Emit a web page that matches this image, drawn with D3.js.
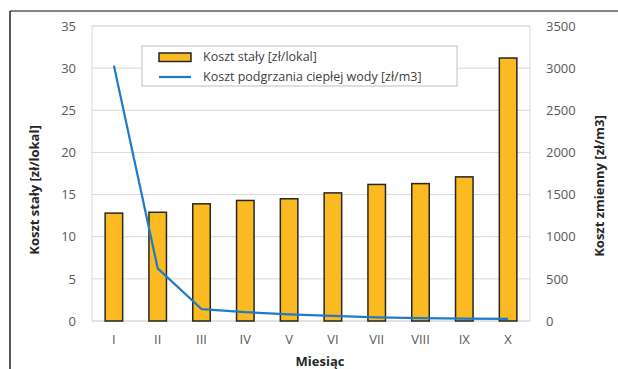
<!DOCTYPE html>
<html>
<head>
<meta charset="utf-8">
<script src="https://cdn.jsdelivr.net/npm/d3@7"></script>
<style>
  body { margin: 0; background: #fff; }
  text { font-family: "Open Sans", "Noto Sans", sans-serif; }
</style>
</head>
<body>
<div id="chart"></div>
<script>
const months = ["I", "II", "III", "IV", "V", "VI", "VII", "VIII", "IX", "X"];
const fixedCost = [12.8, 12.9, 13.9, 14.3, 14.5, 15.2, 16.2, 16.3, 17.1, 31.2];
const heatCost = [3030, 625, 142, 105, 80, 62, 42, 33, 27, 24];
const leftTicks = [0, 5, 10, 15, 20, 25, 30, 35];
const rightTicks = [0, 500, 1000, 1500, 2000, 2500, 3000, 3500];

const W = 618, H = 369;
const margin = { top: 26, right: 88, bottom: 48, left: 92 };

const svg = d3.select("#chart").append("svg")
  .attr("width", W).attr("height", H);

// outer frame (top + left only visible)
svg.append("line").attr("x1", 10).attr("x2", W).attr("y1", 11).attr("y2", 11)
  .attr("stroke", "#5a5a5a").attr("stroke-width", 1.5);
svg.append("line").attr("x1", 10).attr("x2", 10).attr("y1", 11).attr("y2", H)
  .attr("stroke", "#222").attr("stroke-width", 1.5);

const x = d3.scaleBand().domain(months)
  .range([margin.left, W - margin.right]).paddingInner(0.6).paddingOuter(0.3);
const yL = d3.scaleLinear().domain([0, 35]).range([H - margin.bottom, margin.top]);
const yR = d3.scaleLinear().domain([0, 3500]).range([H - margin.bottom, margin.top]);

// gridlines
svg.append("g").selectAll("line").data(leftTicks).join("line")
  .attr("x1", margin.left).attr("x2", W - margin.right)
  .attr("y1", d => yL(d)).attr("y2", d => yL(d))
  .attr("stroke", "#d9d9d9").attr("stroke-width", 1);
svg.append("rect")
  .attr("x", margin.left).attr("y", margin.top)
  .attr("width", W - margin.right - margin.left).attr("height", yL(0) - margin.top)
  .attr("fill", "none").attr("stroke", "#d9d9d9");

// bars
svg.append("g").selectAll("rect").data(fixedCost).join("rect")
  .attr("x", (d, i) => x(months[i]))
  .attr("y", d => yL(d))
  .attr("width", x.bandwidth())
  .attr("height", d => yL(0) - yL(d))
  .attr("fill", "#fbba22").attr("stroke", "#262626").attr("stroke-width", 1.5);

// line
const line = d3.line()
  .x((d, i) => x(months[i]) + x.bandwidth() / 2)
  .y(d => yR(d));
svg.append("path").datum(heatCost)
  .attr("d", line).attr("fill", "none")
  .attr("stroke", "#1f7bc8").attr("stroke-width", 2.25).attr("stroke-linejoin", "round");

// axes
const tickStyle = g => {
  g.select(".domain").remove();
  g.selectAll(".tick line").remove();
  g.selectAll("text").attr("fill", "#595959").style("font-size", "13px");
};
svg.append("g").attr("transform", `translate(${margin.left},0)`)
  .call(d3.axisLeft(yL).tickValues(leftTicks).tickSize(0).tickPadding(16))
  .call(tickStyle);
svg.append("g").attr("transform", `translate(${W - margin.right},0)`)
  .call(d3.axisRight(yR).tickValues(rightTicks).tickFormat(d3.format("d")).tickSize(0).tickPadding(16))
  .call(tickStyle);
svg.append("g").attr("transform", `translate(0,${yL(0)})`)
  .call(d3.axisBottom(x).tickSize(0).tickPadding(14))
  .call(tickStyle);

// axis titles
svg.append("text").attr("x", 320).attr("y", 366)
  .attr("text-anchor", "middle").style("font-size", "13px").style("font-weight", "bold")
  .attr("fill", "#262626").text("Miesiąc");
svg.append("text").attr("transform", "translate(39,190) rotate(-90)")
  .attr("text-anchor", "middle").style("font-size", "13px").style("font-weight", "bold")
  .attr("fill", "#262626").text("Koszt stały [zł/lokal]");
svg.append("text").attr("transform", "translate(604,186) rotate(-90)")
  .attr("text-anchor", "middle").style("font-size", "13px").style("font-weight", "bold")
  .attr("fill", "#262626").text("Koszt zmienny  [zł/m3]");

// legend
const lg = svg.append("g").attr("transform", "translate(142,46)");
lg.append("rect").attr("width", 315).attr("height", 40)
  .attr("fill", "#fff").attr("stroke", "#bfbfbf");
lg.append("rect").attr("x", 17).attr("y", 7).attr("width", 32).attr("height", 8.5)
  .attr("fill", "#fbba22").attr("stroke", "#262626").attr("stroke-width", 1.5);
lg.append("line").attr("x1", 17).attr("x2", 49).attr("y1", 31).attr("y2", 31)
  .attr("stroke", "#1f7bc8").attr("stroke-width", 2.25);
lg.append("text").attr("x", 61).attr("y", 11).attr("dy", "0.35em")
  .style("font-size", "12.5px").attr("fill", "#404040").text("Koszt stały [zł/lokal]");
lg.append("text").attr("x", 61).attr("y", 31).attr("dy", "0.35em")
  .style("font-size", "12.5px").attr("fill", "#404040").text("Koszt podgrzania ciepłej wody [zł/m3]");
</script>
</body>
</html>
